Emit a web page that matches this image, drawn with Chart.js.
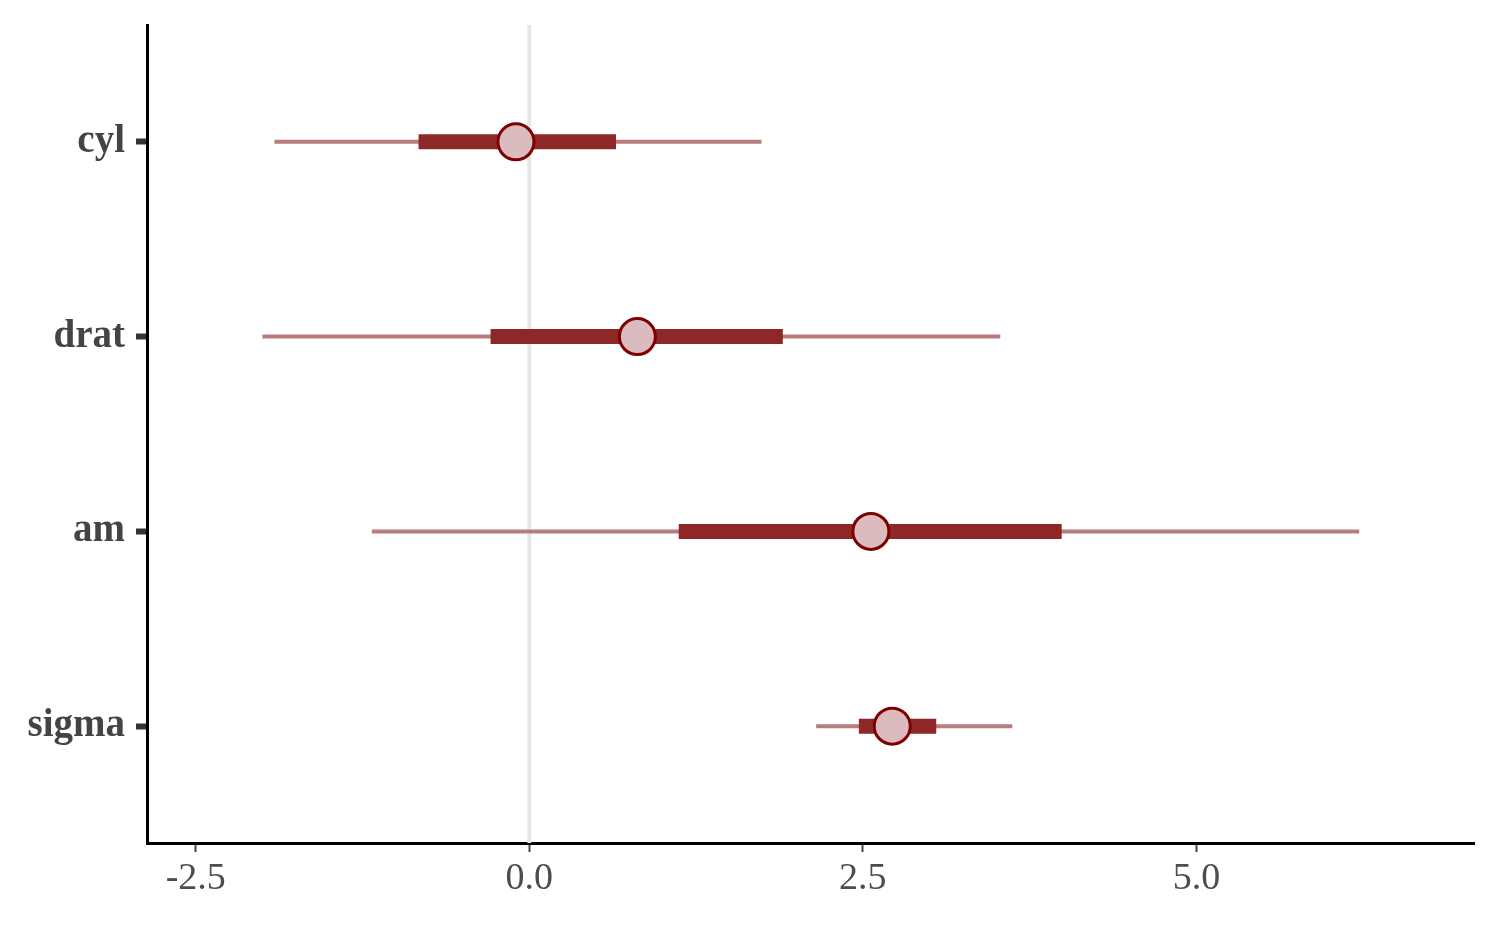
<!DOCTYPE html>
<html>
<head>
<meta charset="utf-8">
<script src="https://cdn.jsdelivr.net/npm/chart.js@4/dist/chart.umd.min.js"></script>
<style>
  html, body { margin: 0; padding: 0; background: #fff; }
  #wrap { width: 1500px; height: 927px; }
</style>
</head>
<body>
<div id="wrap"><canvas id="intervalChart" width="1500" height="927"></canvas></div>
<script>
const params = ['cyl', 'drat', 'am', 'sigma'];
const outerLo = [-1.91, -2.00, -1.18, 2.15];
const outerHi = [1.74, 3.53, 6.22, 3.62];
const innerLo = [-0.83, -0.29, 1.12, 2.47];
const innerHi = [0.65, 1.90, 3.99, 3.05];
const medians = [-0.10, 0.81, 2.56, 2.72];
const xTicks = [-2.5, 0.0, 2.5, 5.0];

const outerColor = '#b97b7b';
const innerColor = '#8e2727';

const datasets = [];

// reference line at zero
datasets.push({
  type: 'line',
  data: [{ x: 0, y: 0.4 }, { x: 0, y: 4.6 }],
  borderColor: '#e6e6e6',
  borderWidth: 4,
  pointRadius: 0,
  order: 4
});

params.forEach((p, i) => {
  datasets.push({
    type: 'line',
    data: [{ x: outerLo[i], y: i + 1 }, { x: outerHi[i], y: i + 1 }],
    borderColor: outerColor,
    borderWidth: 4,
    borderCapStyle: 'butt',
    pointRadius: 0,
    order: 3
  });
  datasets.push({
    type: 'line',
    data: [{ x: innerLo[i], y: i + 1 }, { x: innerHi[i], y: i + 1 }],
    borderColor: innerColor,
    borderWidth: 15,
    borderCapStyle: 'butt',
    pointRadius: 0,
    order: 2
  });
});

datasets.push({
  type: 'scatter',
  data: medians.map((m, i) => ({ x: m, y: i + 1 })),
  backgroundColor: '#dbbbbe',
  borderColor: '#7f0000',
  borderWidth: 3,
  pointRadius: 18,
  pointHoverRadius: 18,
  order: 0
});

const ctx = document.getElementById('intervalChart').getContext('2d');
new Chart(ctx, {
  type: 'scatter',
  data: { datasets: datasets },
  options: {
    responsive: false,
    animation: false,
    layout: { padding: { top: 25, right: 26, left: 0, bottom: 0 } },
    plugins: {
      legend: { display: false },
      tooltip: { enabled: false }
    },
    scales: {
      x: {
        type: 'linear',
        min: -2.865,
        max: 7.08,
        afterFit: s => { s.height = 84; s.paddingLeft = 0; s.paddingRight = 0; },
        afterBuildTicks: s => { s.ticks = xTicks.map(v => ({ value: v })); },
        border: { display: true, color: '#000', width: 3 },
        grid: { drawOnChartArea: false, tickLength: 9, tickWidth: 2, tickColor: '#444' },
        ticks: {
          color: '#4d4d4d',
          padding: 4,
          font: { family: 'Liberation Serif', size: 38 },
          callback: v => v.toFixed(1)
        }
      },
      y: {
        type: 'linear',
        reverse: true,
        min: 0.4,
        max: 4.6,
        afterFit: s => { s.width = 147; s.paddingTop = 0; s.paddingBottom = 0; },
        afterBuildTicks: s => { s.ticks = params.map((p, i) => ({ value: i + 1 })); },
        border: { display: true, color: '#000', width: 3 },
        grid: { drawOnChartArea: false, tickLength: 11, tickWidth: 6, tickColor: '#333' },
        ticks: {
          color: '#444',
          padding: 11,
          font: { family: 'Liberation Serif', size: 39, weight: 'bold' },
          callback: v => params[Math.round(v) - 1]
        }
      }
    }
  }
});
</script>
</body>
</html>
